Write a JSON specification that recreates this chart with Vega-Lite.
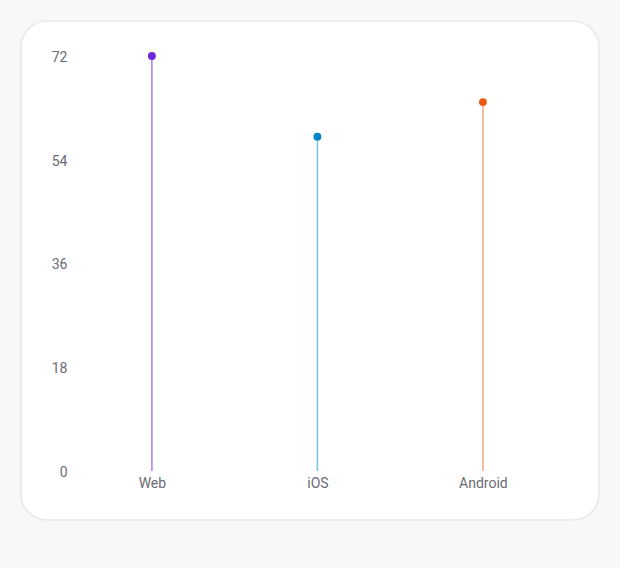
{
  "$schema": "https://vega.github.io/schema/vega-lite/v6.json",
  "width": 578,
  "height": 499,
  "autosize": "none",
  "padding": {"left": 21, "top": 21, "right": 21, "bottom": 48},
  "background": "#f8f8f8",
  "data": {
    "values": [
      {"platform": "Web", "value": 72, "dot": "#6d28d9", "stem": "#a57cf0"},
      {"platform": "iOS", "value": 58, "dot": "#0284c7", "stem": "#7cc0e3"},
      {"platform": "Android", "value": 64, "dot": "#ea580c", "stem": "#f4a482"}
    ]
  },
  "encoding": {
    "x": {
      "field": "platform",
      "type": "nominal",
      "sort": null,
      "scale": {"type": "point", "padding": 0.746, "align": 0.53},
      "axis": {
        "title": null,
        "domain": false,
        "ticks": false,
        "labelAngle": 0,
        "offset": -44,
        "labelPadding": 0,
        "labelFont": "Roboto",
        "labelFontSize": 14,
        "labelColor": "#6b6b75"
      }
    }
  },
  "layer": [
    {
      "mark": {"type": "rule", "strokeWidth": 1.5},
      "encoding": {
        "y": {
          "field": "value",
          "type": "quantitative",
          "scale": {"domain": [-8.5, 78.07], "nice": false, "zero": false},
          "axis": {
            "title": null,
            "values": [0, 18, 36, 54, 72],
            "grid": false,
            "domain": false,
            "ticks": false,
            "offset": -50,
            "labelPadding": 4,
            "labelOffset": 1.5,
            "labelFont": "Roboto",
            "labelFontSize": 14,
            "labelColor": "#6b6b75"
          }
        },
        "y2": {"datum": 0},
        "color": {"field": "stem", "type": "nominal", "scale": null}
      }
    },
    {
      "mark": {"type": "circle", "size": 62, "opacity": 1},
      "encoding": {
        "y": {"field": "value", "type": "quantitative"},
        "color": {"field": "dot", "type": "nominal", "scale": null}
      }
    }
  ],
  "config": {
    "view": {
      "fill": "#ffffff",
      "stroke": "#e8e8e8",
      "strokeWidth": 1.5,
      "cornerRadius": 26
    }
  }
}
